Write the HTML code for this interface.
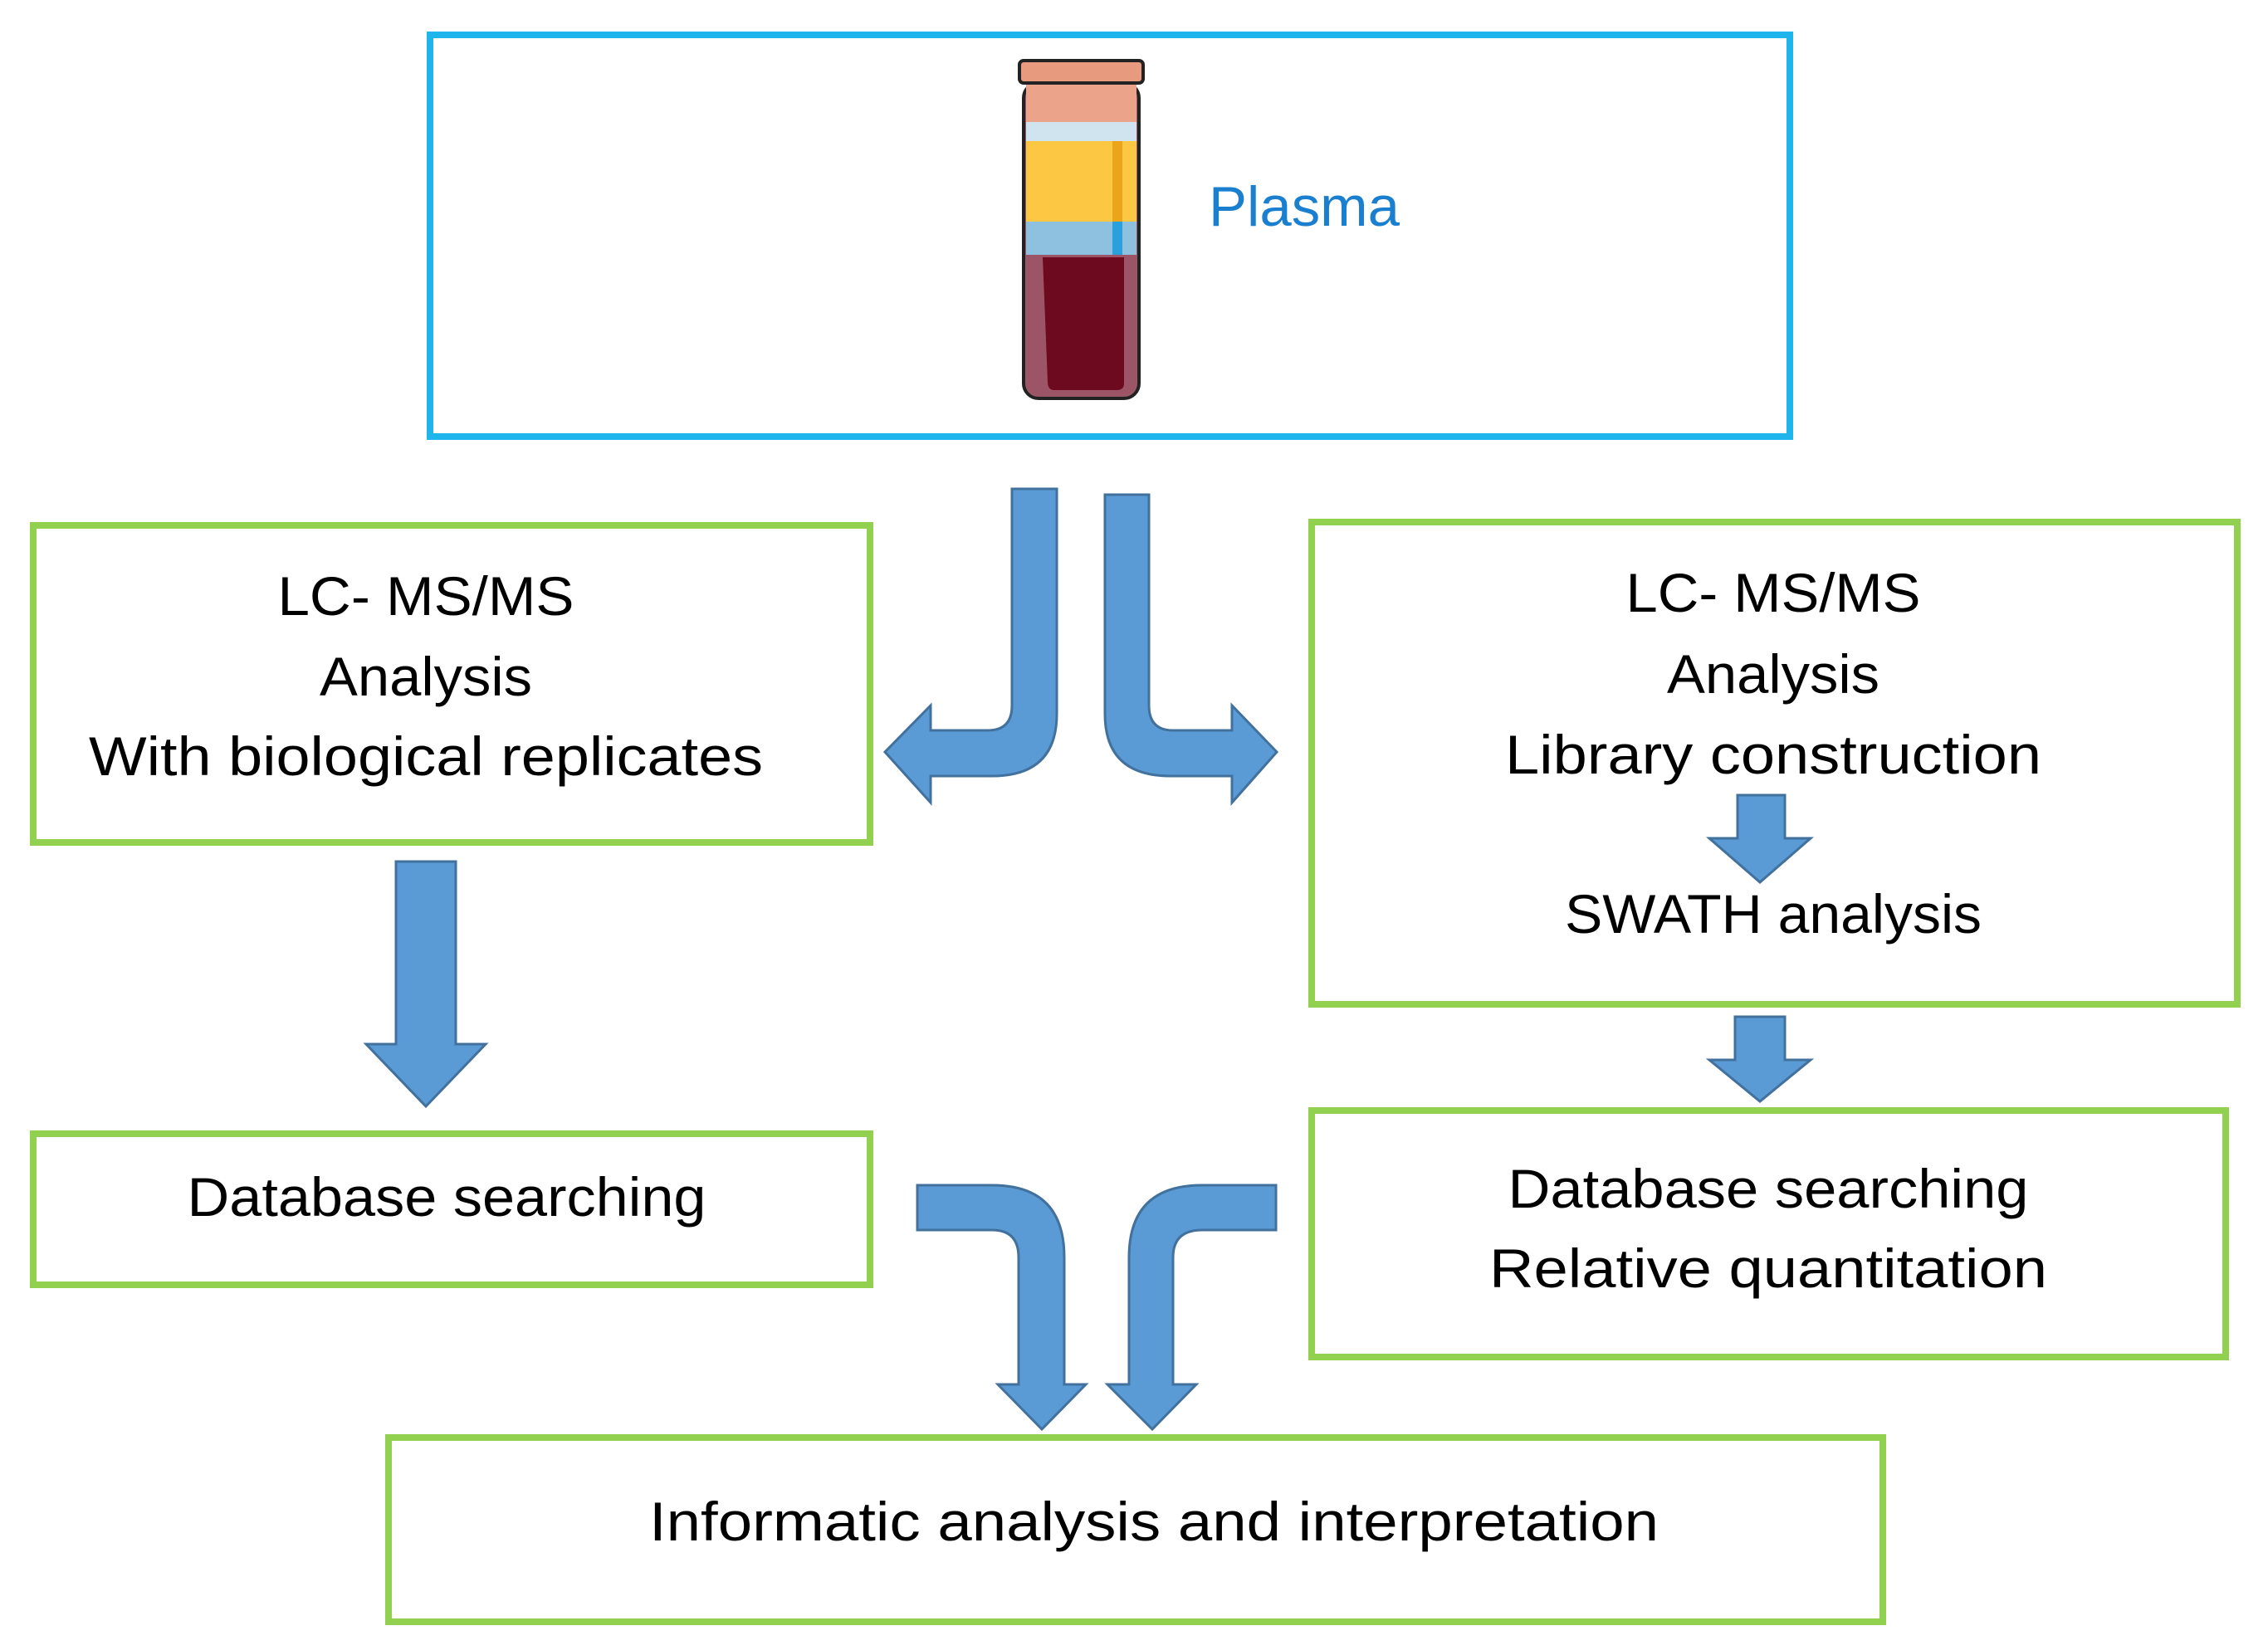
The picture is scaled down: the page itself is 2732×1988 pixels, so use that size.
<!DOCTYPE html>
<html><head><meta charset="utf-8"><style>
html,body{margin:0;padding:0;background:#fff;}
svg{display:block;}
text{font-family:"Liberation Sans",sans-serif;}
</style></head><body>
<svg width="2732" height="1988" viewBox="0 0 2732 1988" xmlns="http://www.w3.org/2000/svg">
<rect width="2732" height="1988" fill="#fff"/>
<!-- Plasma box -->
<rect x="518" y="42" width="1638" height="484" fill="none" stroke="#1eb4ec" stroke-width="8"/>
<!-- tube -->
<rect x="1233" y="100" width="139" height="380" rx="18" fill="#9a5a6a" stroke="#222" stroke-width="4"/>
<rect x="1236" y="100" width="133" height="47" fill="#eba48a"/>
<rect x="1236" y="147" width="133" height="23" fill="#cfe4ef"/>
<rect x="1236" y="170" width="133" height="97" fill="#fcc844"/>
<rect x="1340" y="170" width="12" height="97" fill="#eaa51a"/>
<rect x="1236" y="267" width="133" height="40" fill="#8ec0e0"/>
<rect x="1340" y="267" width="12" height="40" fill="#2aa0dc"/>
<path d="M1236 307 H1369 V460 Q1369 477 1350 477 H1255 Q1236 477 1236 460 Z" fill="#9c5566"/>
<path d="M1256 310 H1354 V462 Q1354 470 1345 470 H1270 Q1262 470 1262 460 Z" fill="#6e0a20"/>
<rect x="1228" y="73" width="149" height="27" rx="5" fill="#e89a7e" stroke="#222" stroke-width="4"/>
<text x="1571" y="272" font-size="68" fill="#1a7fcf" text-anchor="middle" textLength="230" lengthAdjust="spacingAndGlyphs">Plasma</text>

<g fill="none" stroke="#92d050" stroke-width="8">
<rect x="40" y="633" width="1008" height="382"/>
<rect x="1580" y="629" width="1115" height="581"/>
<rect x="40" y="1366" width="1008" height="182"/>
<rect x="1580" y="1338" width="1101" height="297"/>
<rect x="468" y="1732" width="1800" height="222"/>
</g>

<g fill="#5b9bd5" stroke="#41719c" stroke-width="3">
<!-- top split arrows -->
<path d="M1219 589 H1273 V860 Q1273 935 1195 935 H1121 V967 L1066 906 L1121 850 V880 H1190 Q1219 880 1219 850 Z"/>
<path d="M1331 596 H1384 V850 Q1384 880 1413 880 H1484 V850 L1538 906 L1484 967 V935 H1410 Q1331 935 1331 860 Z"/>
<!-- left down arrow -->
<path d="M477 1038 H549 V1258 H585 L513 1333 L441 1258 H477 Z"/>
<!-- small arrow inside right box -->
<path d="M2093 958 H2150 V1010 H2181 L2120 1063 L2059 1010 H2093 Z"/>
<!-- arrow between right boxes -->
<path d="M2090 1225 H2150 V1277 H2181 L2120 1327 L2059 1277 H2090 Z"/>
<!-- bottom merge arrows -->
<path d="M1105 1428 H1195 Q1282 1428 1282 1515 V1668 H1308 L1255 1722 L1202 1668 H1227 V1515 Q1227 1482 1195 1482 H1105 Z"/>
<path d="M1537 1428 H1448 Q1360 1428 1360 1515 V1668 H1334 L1388 1722 L1441 1668 H1413 V1515 Q1413 1482 1448 1482 H1537 Z"/>
</g>

<g font-size="66" fill="#000" text-anchor="middle" lengthAdjust="spacingAndGlyphs">
<text x="513" y="741" textLength="357" lengthAdjust="spacingAndGlyphs">LC- MS/MS</text>
<text x="513" y="838" textLength="256" lengthAdjust="spacingAndGlyphs">Analysis</text>
<text x="513" y="934" textLength="812" lengthAdjust="spacingAndGlyphs">With biological replicates</text>
<text x="2136" y="737" textLength="355" lengthAdjust="spacingAndGlyphs">LC- MS/MS</text>
<text x="2136" y="835" textLength="256" lengthAdjust="spacingAndGlyphs">Analysis</text>
<text x="2136" y="932" textLength="646" lengthAdjust="spacingAndGlyphs">Library construction</text>
<text x="2136" y="1124" textLength="502" lengthAdjust="spacingAndGlyphs">SWATH analysis</text>
<text x="538" y="1465" textLength="625" lengthAdjust="spacingAndGlyphs">Database searching</text>
<text x="2130" y="1455" textLength="627" lengthAdjust="spacingAndGlyphs">Database searching</text>
<text x="2130" y="1551" textLength="672" lengthAdjust="spacingAndGlyphs">Relative quantitation</text>
<text x="1390" y="1856" textLength="1216" lengthAdjust="spacingAndGlyphs">Informatic analysis and interpretation</text>
</g>
</svg>
</body></html>
